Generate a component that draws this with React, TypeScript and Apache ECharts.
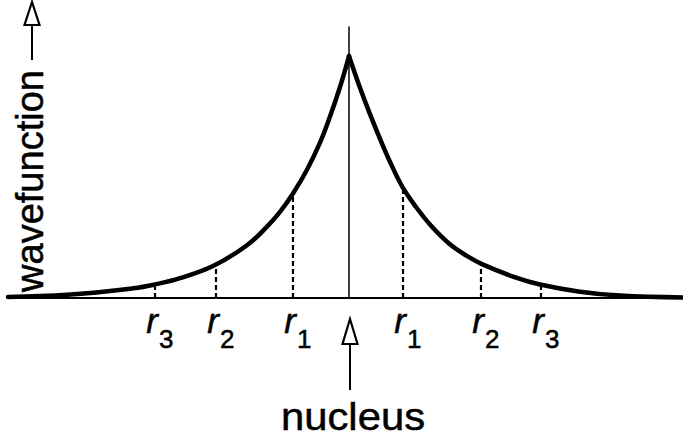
import React, { useEffect, useRef } from "react";
import * as echarts from "echarts";

// Wavefunction amplitude on each side of the nucleus (r in arbitrary units, peak = 1)
const leftBranch: [number, number][] = [
  [-3.41, 0.004],
  [-2.82, 0.013],
  [-2.16, 0.04],
  [-1.94, 0.056],
  [-1.69, 0.082],
  [-1.36, 0.132],
  [-1.02, 0.218],
  [-0.82, 0.295],
  [-0.69, 0.356],
  [-0.56, 0.432],
  [-0.42, 0.53],
  [-0.29, 0.642],
  [-0.19, 0.75],
  [-0.09, 0.872],
  [0, 1.0],
];

const rightBranch: [number, number][] = [
  [0, 1.0],
  [0.1, 0.88],
  [0.2, 0.77],
  [0.33, 0.638],
  [0.43, 0.545],
  [0.54, 0.455],
  [0.67, 0.376],
  [0.83, 0.294],
  [1.0, 0.225],
  [1.17, 0.176],
  [1.33, 0.14],
  [1.67, 0.084],
  [1.91, 0.056],
  [2.31, 0.026],
  [2.71, 0.01],
  [3.34, 0.002],
];

// Marked radii r1, r2, r3 on both sides and the curve height at each
const shellPositions = [-1.94, -1.33, -0.56, 0.54, 1.32, 1.92];
const shellHeights = [0.049, 0.138, 0.42, 0.445, 0.14, 0.047];
const shellSubscripts = ["3", "2", "1", "1", "2", "3"];

const xRange = [-3.41, 3.34];
const yRange = [0, 1.12];

const yTitle = "wavefunction";
const nucleusLabel = "nucleus";

const FONT = '"Liberation Sans", Arial, Helvetica, sans-serif';
// distance from the central line of the em box to the alphabetic baseline
const BASE = 0.3465;

export default function App() {
  const ref = useRef<HTMLDivElement>(null);

  useEffect(() => {
    if (!ref.current) return;
    const chart = echarts.init(ref.current, null, { renderer: "svg" });

    const branchStyle = {
      type: "line" as const,
      showSymbol: false,
      smooth: 0.4,
      silent: true,
      lineStyle: { color: "#000", width: 4.5, cap: "round" as const, join: "round" as const },
      z: 5,
    };

    chart.setOption({
      animation: false,
      backgroundColor: "#fff",
      grid: { left: 8, right: 0, top: 27, bottom: 139 },
      xAxis: {
        type: "value",
        min: xRange[0],
        max: xRange[1],
        axisLine: { show: true, onZero: true, lineStyle: { color: "#000", width: 2 } },
        axisTick: { show: false },
        axisLabel: { show: false },
        splitLine: { show: false },
      },
      yAxis: {
        type: "value",
        min: yRange[0],
        max: yRange[1],
        axisLine: { show: true, onZero: true, lineStyle: { color: "#000", width: 1.5 } },
        axisTick: { show: false },
        axisLabel: { show: false },
        splitLine: { show: false },
      },
      series: [
        {
          ...branchStyle,
          data: leftBranch,
          markLine: {
            silent: true,
            symbol: "none",
            animation: false,
            label: { show: false },
            lineStyle: { color: "#000", width: 2.2, type: [5, 3] },
            data: shellPositions.map((x, i) => [
              { coord: [x, 0] },
              { coord: [x, shellHeights[i]] },
            ]),
          },
        },
        { ...branchStyle, data: rightBranch },
      ],
    });

    const toPx = (x: number, y: number) =>
      chart.convertToPixel({ gridIndex: 0 }, [x, y]) as number[];
    const origin = toPx(0, 0);
    const axisY = origin[1];
    const cx = origin[0] + 1;

    const textStyle = (text: string, font: string, align: string) => ({
      text,
      font,
      fill: "#000",
      stroke: "#000",
      lineWidth: 0.5,
      align,
      verticalAlign: "middle",
    });

    const rSize = 35;
    const subSize = 26;
    const labels: any[] = [];
    shellPositions.forEach((x, i) => {
      const px = toPx(x, 0)[0];
      labels.push({
        type: "text",
        x: px - 3,
        y: axisY + 35 - BASE * rSize,
        style: textStyle("r", `italic ${rSize}px ${FONT}`, "center"),
      });
      labels.push({
        type: "text",
        x: px + 4,
        y: axisY + 50 - BASE * subSize,
        style: textStyle(shellSubscripts[i], `${subSize}px ${FONT}`, "left"),
      });
    });

    const titleSize = 38;
    const nucSize = 38;

    chart.setOption({
      graphic: [
        ...labels,
        // nucleus pointer
        {
          type: "line",
          shape: { x1: cx, y1: axisY + 46, x2: cx, y2: axisY + 92 },
          style: { stroke: "#000", lineWidth: 2 },
        },
        {
          type: "polygon",
          shape: {
            points: [
              [cx, axisY + 21],
              [cx - 7.5, axisY + 46],
              [cx + 7.5, axisY + 46],
            ],
          },
          style: { fill: "#fff", stroke: "#000", lineWidth: 2.2 },
        },
        {
          type: "text",
          x: cx + 3,
          y: axisY + 132 - BASE * nucSize,
          scaleX: 1.1,
          style: textStyle(nucleusLabel, `${nucSize}px ${FONT}`, "center"),
        },
        // vertical axis title with its arrow
        {
          type: "text",
          x: 43 - BASE * titleSize,
          y: 181,
          rotation: Math.PI / 2,
          style: textStyle(yTitle, `${titleSize}px ${FONT}`, "center"),
        },
        {
          type: "line",
          shape: { x1: 32, y1: 25, x2: 32, y2: 60 },
          style: { stroke: "#000", lineWidth: 2 },
        },
        {
          type: "polygon",
          shape: {
            points: [
              [32, 2],
              [24.5, 25],
              [39.5, 25],
            ],
          },
          style: { fill: "#fff", stroke: "#000", lineWidth: 2.2 },
        },
      ],
    });

    return () => chart.dispose();
  }, []);

  return (
    <div
      ref={ref}
      style={{ position: "fixed", left: 0, top: 0, width: 683, height: 437, background: "#fff" }}
    />
  );
}
